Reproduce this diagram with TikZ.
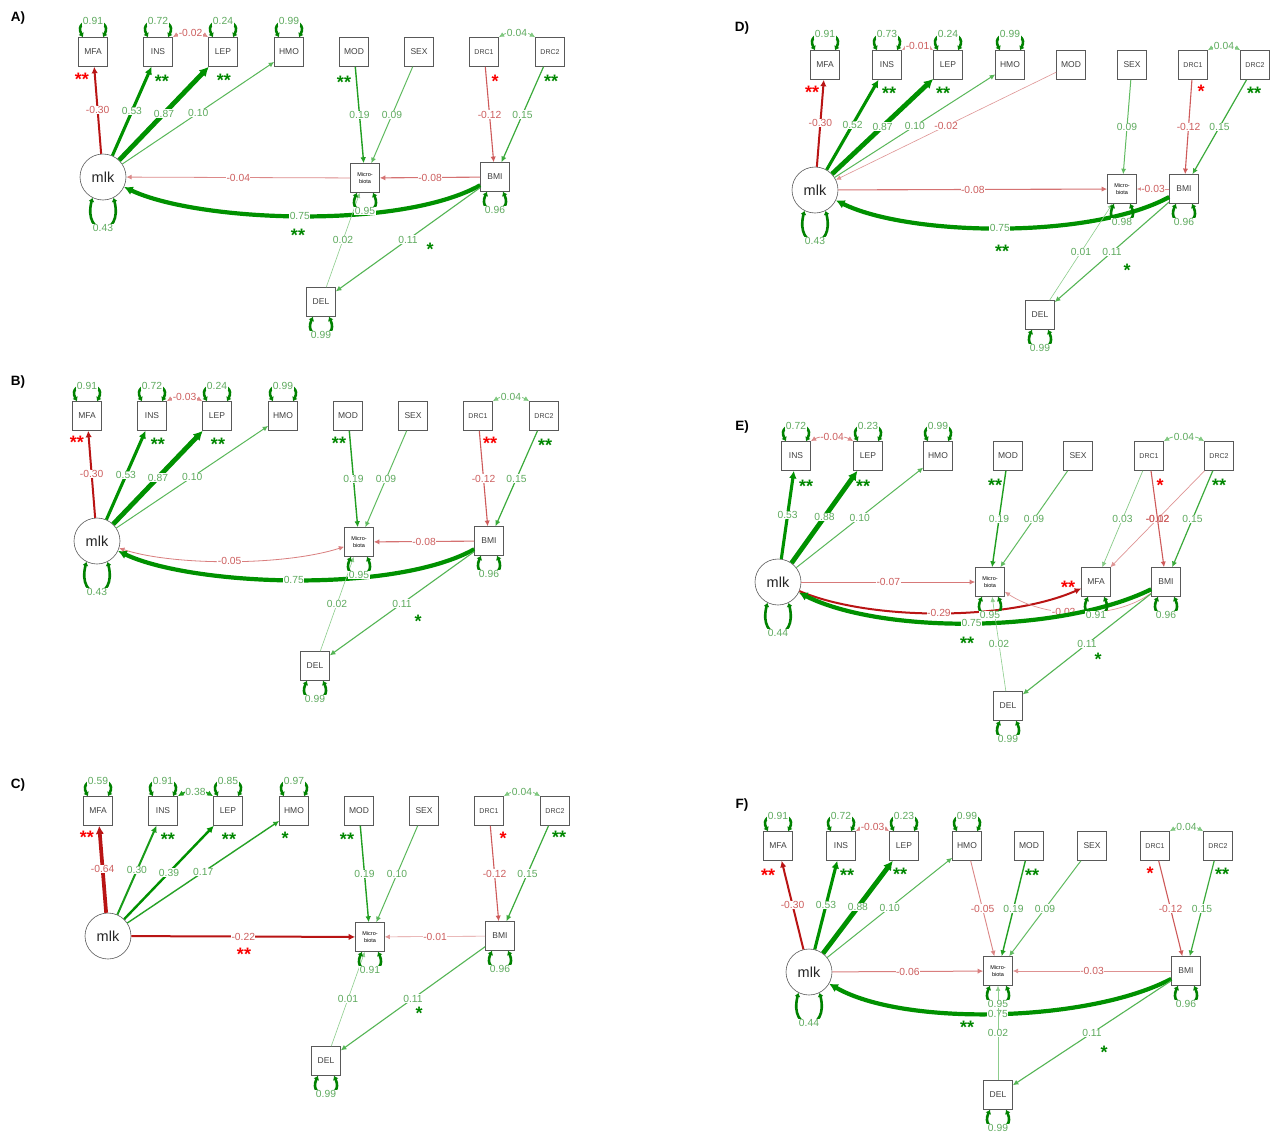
\documentclass[tikz,border=0pt]{standalone}
\usepackage{fontspec}
\setmainfont{Liberation Sans}
\usetikzlibrary{arrows.meta}
\definecolor{gE}{RGB}{0,145,0}
\definecolor{rE}{RGB}{185,20,20}
\definecolor{gL}{RGB}{95,170,95}
\definecolor{rL}{RGB}{205,95,95}
\definecolor{gS}{RGB}{0,135,0}
\definecolor{rS}{RGB}{250,0,0}
\tikzset{
 boxn/.style={draw=black!65, line width=0.6pt, minimum width=29pt, minimum height=29pt, inner sep=0pt, fill=white, font=\fontsize{8.5}{9}\selectfont, text=black!75},
 boxs/.style={boxn, font=\fontsize{7}{8}\selectfont},
 micn/.style={boxn, font=\fontsize{5.5}{6.2}\selectfont, align=center, text=black},
 latn/.style={circle, draw=black!65, line width=0.6pt, minimum size=46pt, inner sep=0pt, fill=white, font=\fontsize{14.5}{15}\selectfont, text=black!85},
 gedge/.style 2 args={draw=gE!#2, line width=#1pt, -{Latex[length=4.5pt 1,width=4pt 1.2]}},
 redge/.style 2 args={draw=rE!#2, line width=#1pt, -{Latex[length=4.5pt 1,width=4pt 1.2]}},
 gcov/.style 2 args={draw=gE!#2, line width=#1pt, {Latex[length=4.5pt 1,width=4pt 1.2]}-{Latex[length=4.5pt 1,width=4pt 1.2]}},
 rcov/.style 2 args={draw=rE!#2, line width=#1pt, {Latex[length=4.5pt 1,width=4pt 1.2]}-{Latex[length=4.5pt 1,width=4pt 1.2]}},
 glab/.style={fill=white, inner sep=0.5pt, text=gL, font=\fontsize{10.3}{11}\selectfont},
 rlab/.style={glab, text=rL},
 gstar/.style={text=gS, font=\bfseries\fontsize{18}{18}\selectfont, inner sep=0pt, anchor=base, yshift=-10pt},
 rstar/.style={gstar, text=rS},
 resloop/.style={draw=gE!90!black, line width=2.6pt, {Latex[length=4pt,width=6pt]}-{Latex[length=4pt,width=6pt]}},
 plab/.style={font=\bfseries\fontsize{13.5}{14}\selectfont},
}
\newcommand\rtop[2]{\draw[resloop] ([xshift=-10pt]#1.north) .. controls +(-11,-21) and +(11,-21) .. ([xshift=10pt]#1.north) node[midway,glab]{#2};}
\newcommand\rbot[2]{\draw[resloop] ([xshift=-8pt]#1.south) .. controls +(-11,24) and +(11,24) .. ([xshift=8pt]#1.south) node[midway,glab]{#2};}
\newcommand\rcir[2]{\draw[resloop] (#1.-117) .. controls +(-10,40) and +(10,40) .. (#1.-63) node[midway,glab]{#2};}
\newcommand\abcnodes{%
\node[boxn] (mfa) at (93,52) {MFA};
\node[boxn] (ins) at (158,52) {INS};
\node[boxn] (lep) at (223,52) {LEP};
\node[boxn] (hmo) at (289,52) {HMO};
\node[boxn] (mod) at (354,52) {MOD};
\node[boxn] (sex) at (419,52) {SEX};
\node[boxs] (drc1) at (484,52) {DRC1};
\node[boxs] (drc2) at (550,52) {DRC2};
\node[latn] (mlk) at (103,177) {mlk};
\node[micn] (mic) at (365,178) {Micro-\\biota};
\node[boxn] (bmi) at (495,177) {BMI};
\node[boxn] (del) at (321,302) {DEL};}
\begin{document}
\begin{tikzpicture}[x=1pt,y=-1pt]
\useasboundingbox (0,0) rectangle (1274,1135);
\fill[white] (0,0) rectangle (1274,1135);
% ---------------- Panel A
\begin{scope}[name prefix=a-]
\node[plab] (lab) at (18,18) {A)};
\abcnodes
\draw[redge={2}{100}] (mlk) -- (mfa) node[midway,rlab]{-0.30};
\draw[gedge={3.1}{100}] (mlk) -- (ins) node[midway,glab]{0.53};
\draw[gedge={4.8}{100}] (mlk) -- (lep) node[midway,glab]{0.87};
\draw[gedge={1}{65}] (mlk) -- (hmo) node[midway,glab]{0.10};
\draw[rcov={0.8}{50}] (ins.north east) .. controls +(10,-6) and +(-10,-6) .. (lep.north west) node[midway,rlab]{-0.02};
\draw[gedge={1.4}{87}] (mod) -- (mic) node[midway,glab]{0.19};
\draw[gedge={1}{62}] (sex) -- (mic) node[midway,glab]{0.09};
\draw[redge={1.1}{70}] (drc1) -- (bmi) node[midway,rlab]{-0.12};
\draw[gedge={1.2}{77}] (drc2) -- (bmi) node[midway,glab]{0.15};
\draw[gcov={0.8}{50}] (drc1.north east) .. controls +(10,-6) and +(-10,-6) .. (drc2.north west) node[midway,glab]{0.04};
\draw[redge={0.8}{50}] (mic) -- (mlk) node[midway,rlab]{-0.04};
\draw[redge={1.1}{60}] (bmi) -- (mic) node[midway,rlab]{-0.08};
\draw[gedge={4.2}{100}] (bmi) .. controls (400,230) and (198,222) .. (mlk) node[midway,glab]{0.75};
\draw[gedge={0.6}{45}] (del) -- (mic) node[midway,glab]{0.02};
\draw[gedge={1.1}{67}] (bmi) -- (del) node[midway,glab]{0.11};
\rtop{mfa}{0.91}\rtop{ins}{0.72}\rtop{lep}{0.24}\rtop{hmo}{0.99}
\rcir{mlk}{0.43}\rbot{mic}{0.95}\rbot{bmi}{0.96}\rbot{del}{0.99}
\node[rstar] (s1) at (82,75) {**};
\node[gstar] (s2) at (162,77) {**};
\node[gstar] (s3) at (224,76) {**};
\node[gstar] (s4) at (344,78) {**};
\node[rstar] (s5) at (495,77) {*};
\node[gstar] (s6) at (551,77) {**};
\node[gstar] (s7) at (298,231) {**};
\node[gstar] (s8) at (430,245) {*};
\end{scope}
% ---------------- Panel B
\begin{scope}[name prefix=b-, shift={(-6,364)}]
\node[plab] (lab) at (24,18) {B)};
\abcnodes
\draw[redge={2}{100}] (mlk) -- (mfa) node[midway,rlab]{-0.30};
\draw[gedge={3.1}{100}] (mlk) -- (ins) node[midway,glab]{0.53};
\draw[gedge={4.8}{100}] (mlk) -- (lep) node[midway,glab]{0.87};
\draw[gedge={1}{65}] (mlk) -- (hmo) node[midway,glab]{0.10};
\draw[rcov={0.8}{50}] (ins.north east) .. controls +(10,-6) and +(-10,-6) .. (lep.north west) node[midway,rlab]{-0.03};
\draw[gedge={1.4}{87}] (mod) -- (mic) node[midway,glab]{0.19};
\draw[gedge={1}{62}] (sex) -- (mic) node[midway,glab]{0.09};
\draw[redge={1.1}{70}] (drc1) -- (bmi) node[midway,rlab]{-0.12};
\draw[gedge={1.2}{77}] (drc2) -- (bmi) node[midway,glab]{0.15};
\draw[gcov={0.8}{50}] (drc1.north east) .. controls +(10,-6) and +(-10,-6) .. (drc2.north west) node[midway,glab]{0.04};
\draw[rcov={0.8}{55}] (mlk) .. controls (180,202) and (290,202) .. (mic) node[midway,rlab]{-0.05};
\draw[redge={1.1}{60}] (bmi) -- (mic) node[midway,rlab]{-0.08};
\draw[gedge={4.2}{100}] (bmi) .. controls (400,230) and (198,222) .. (mlk) node[midway,glab]{0.75};
\draw[gedge={0.6}{45}] (del) -- (mic) node[midway,glab]{0.02};
\draw[gedge={1.1}{67}] (bmi) -- (del) node[midway,glab]{0.11};
\rtop{mfa}{0.91}\rtop{ins}{0.72}\rtop{lep}{0.24}\rtop{hmo}{0.99}
\rcir{mlk}{0.43}\rbot{mic}{0.95}\rbot{bmi}{0.96}\rbot{del}{0.99}
\node[rstar] (s1) at (83,74) {**};
\node[gstar] (s2) at (164,76) {**};
\node[gstar] (s3) at (224,76) {**};
\node[gstar] (s4) at (345,75) {**};
\node[rstar] (s5) at (496,75) {**};
\node[gstar] (s6) at (551,77) {**};
\node[gstar] (s8) at (424,253) {*};
\end{scope}
% ---------------- Panel C
\begin{scope}[name prefix=c-, shift={(5,759)}]
\node[plab] (lab) at (13,26) {C)};
\abcnodes
\draw[redge={3.7}{100}] (mlk) -- (mfa) node[midway,rlab]{-0.64};
\draw[gedge={2}{90}] (mlk) -- (ins) node[midway,glab]{0.30};
\draw[gedge={2.4}{100}] (mlk) -- (lep) node[midway,glab]{0.39};
\draw[gedge={1.4}{85}] (mlk) -- (hmo) node[midway,glab]{0.17};
\draw[gcov={1.5}{90}] (ins.north east) .. controls +(10,-6) and +(-10,-6) .. (lep.north west) node[midway,glab]{0.38};
\draw[gedge={1.4}{87}] (mod) -- (mic) node[midway,glab]{0.19};
\draw[gedge={1}{65}] (sex) -- (mic) node[midway,glab]{0.10};
\draw[redge={1.1}{70}] (drc1) -- (bmi) node[midway,rlab]{-0.12};
\draw[gedge={1.2}{77}] (drc2) -- (bmi) node[midway,glab]{0.15};
\draw[gcov={0.8}{50}] (drc1.north east) .. controls +(10,-6) and +(-10,-6) .. (drc2.north west) node[midway,glab]{0.04};
\draw[redge={2}{100}] (mlk) -- (mic) node[midway,rlab]{-0.22};
\draw[redge={0.6}{45}] (bmi) -- (mic) node[midway,rlab]{-0.01};
\draw[gedge={0.6}{45}] (del) -- (mic) node[midway,glab]{0.01};
\draw[gedge={1.1}{67}] (bmi) -- (del) node[midway,glab]{0.11};
\rtop{mfa}{0.59}\rtop{ins}{0.91}\rtop{lep}{0.85}\rtop{hmo}{0.97}
\rbot{mic}{0.91}\rbot{bmi}{0.96}\rbot{del}{0.99}
\node[rstar] (s1) at (82,74) {**};
\node[gstar] (s2) at (163,76) {**};
\node[gstar] (s3) at (224,76) {**};
\node[gstar] (s9) at (280,75) {*};
\node[gstar] (s4) at (342,76) {**};
\node[rstar] (s5) at (498,75) {*};
\node[gstar] (s6) at (554,74) {**};
\node[rstar] (s7) at (239,191) {**};
\node[gstar] (s8) at (414,250) {*};
\end{scope}
% ---------------- Panel D
\begin{scope}[name prefix=d-]
\node[plab] (lab) at (742,28) {D)};
\node[boxn] (mfa) at (825,65) {MFA};
\node[boxn] (ins) at (887,65) {INS};
\node[boxn] (lep) at (948,65) {LEP};
\node[boxn] (hmo) at (1010,65) {HMO};
\node[boxn] (mod) at (1071,65) {MOD};
\node[boxn] (sex) at (1132,65) {SEX};
\node[boxs] (drc1) at (1193,65) {DRC1};
\node[boxs] (drc2) at (1255,65) {DRC2};
\node[latn] (mlk) at (815,190) {mlk};
\node[micn] (mic) at (1122,189) {Micro-\\biota};
\node[boxn] (bmi) at (1184,189) {BMI};
\node[boxn] (del) at (1040,315) {DEL};
\draw[redge={2}{100}] (mlk) -- (mfa) node[midway,rlab]{-0.30};
\draw[gedge={3.1}{100}] (mlk) -- (ins) node[midway,glab]{0.52};
\draw[gedge={4.8}{100}] (mlk) -- (lep) node[midway,glab]{0.87};
\draw[gedge={1}{65}] (mlk) -- (hmo) node[midway,glab]{0.10};
\draw[redge={0.6}{45}] (mod) -- (mlk) node[midway,rlab]{-0.02};
\draw[rcov={0.8}{45}] (ins.north east) .. controls +(10,-6) and +(-10,-6) .. (lep.north west) node[midway,rlab]{-0.01};
\draw[redge={1.1}{60}] (mlk) -- (mic) node[midway,rlab]{-0.08};
\draw[gedge={1}{62}] (sex) -- (mic) node[midway,glab]{0.09};
\draw[redge={1.1}{70}] (drc1) -- (bmi) node[midway,rlab]{-0.12};
\draw[gedge={1.2}{77}] (drc2) -- (bmi) node[midway,glab]{0.15};
\draw[gcov={0.8}{50}] (drc1.north east) .. controls +(10,-6) and +(-10,-6) .. (drc2.north west) node[midway,glab]{0.04};
\draw[redge={0.8}{47}] (bmi) -- (mic) node[midway,rlab]{-0.03};
\draw[gedge={4.2}{100}] (bmi) .. controls (1090,240) and (908,236) .. (mlk) node[midway,glab]{0.75};
\draw[gedge={0.6}{45}] (del) -- (mic) node[midway,glab]{0.01};
\draw[gedge={1.1}{67}] (bmi) -- (del) node[midway,glab]{0.11};
\rtop{mfa}{0.91}\rtop{ins}{0.73}\rtop{lep}{0.24}\rtop{hmo}{0.99}
\rcir{mlk}{0.43}\rbot{mic}{0.98}\rbot{bmi}{0.96}\rbot{del}{0.99}
\node[rstar] (s1) at (812,88) {**};
\node[gstar] (s2) at (889,89) {**};
\node[gstar] (s3) at (943,89) {**};
\node[rstar] (s5) at (1201,87) {*};
\node[gstar] (s6) at (1254,89) {**};
\node[gstar] (s7) at (1002,247) {**};
\node[gstar] (s8) at (1127,266) {*};
\end{scope}
% ---------------- Panel E
\begin{scope}[name prefix=e-]
\node[plab] (lab) at (742,427) {E)};
\node[boxn] (ins) at (796,456) {INS};
\node[boxn] (lep) at (868,456) {LEP};
\node[boxn] (hmo) at (938,456) {HMO};
\node[boxn] (mod) at (1008,456) {MOD};
\node[boxn] (sex) at (1078,456) {SEX};
\node[boxs] (drc1) at (1149,456) {DRC1};
\node[boxs] (drc2) at (1219,456) {DRC2};
\node[latn] (mlk) at (778,582) {mlk};
\node[micn] (mic) at (990,582) {Micro-\\biota};
\node[boxn] (mfa) at (1096,582) {MFA};
\node[boxn] (bmi) at (1166,582) {BMI};
\node[boxn] (del) at (1008,706) {DEL};
\draw[gedge={3.1}{100}] (mlk) -- (ins) node[midway,glab]{0.53};
\draw[gedge={4.8}{100}] (mlk) -- (lep) node[midway,glab]{0.88};
\draw[gedge={1}{65}] (mlk) -- (hmo) node[midway,glab]{0.10};
\draw[rcov={0.8}{50}] (ins.north east) .. controls +(10,-6) and +(-10,-6) .. (lep.north west) node[midway,rlab]{-0.04};
\draw[gedge={1.4}{87}] (mod) -- (mic) node[midway,glab]{0.19};
\draw[gedge={1}{62}] (sex) -- (mic) node[midway,glab]{0.09};
\draw[gedge={0.7}{47}] (drc1) -- (mfa) node[midway,glab]{0.03};
\draw[redge={0.7}{45}] (drc2) -- (mfa) node[midway,rlab]{-0.02};
\draw[redge={1.1}{70}] (drc1) -- (bmi) node[midway,rlab,fill=none]{-0.12};
\draw[gedge={1.2}{77}] (drc2) -- (bmi) node[midway,glab]{0.15};
\draw[gcov={0.8}{50}] (drc1.north east) .. controls +(10,-6) and +(-10,-6) .. (drc2.north west) node[midway,glab]{0.04};
\draw[redge={1}{57}] (mlk) -- (mic) node[midway,rlab]{-0.07};
\draw[redge={2}{100}] (mlk) .. controls (870,621) and (1007,621) .. (mfa) node[midway,rlab]{-0.29};
\draw[redge={0.7}{45}] (bmi) .. controls (1115,620) and (1046,619) .. (mic) node[pos=0.6,rlab]{-0.02};
\draw[gedge={4.2}{100}] (bmi) .. controls (1060,634) and (881,634) .. (mlk) node[midway,glab]{0.75};
\draw[gedge={0.6}{45}] (del) -- (mic) node[midway,glab]{0.02};
\draw[gedge={1.1}{67}] (bmi) -- (del) node[midway,glab]{0.11};
\rtop{ins}{0.72}\rtop{lep}{0.23}\rtop{hmo}{0.99}
\rcir{mlk}{0.44}\rbot{mic}{0.95}\rbot{mfa}{0.91}\rbot{bmi}{0.96}\rbot{del}{0.99}
\node[gstar] (s2) at (806,482) {**};
\node[gstar] (s3) at (863,482) {**};
\node[gstar] (s4) at (995,481) {**};
\node[rstar] (s5) at (1160,481) {*};
\node[gstar] (s6) at (1219,481) {**};
\node[rstar] (s1) at (1068,583) {**};
\node[gstar] (s7) at (967,639) {**};
\node[gstar] (s8) at (1098,655) {*};
\end{scope}
% ---------------- Panel F
\begin{scope}[name prefix=f-]
\node[plab] (lab) at (742,805) {F)};
\node[boxn] (mfa) at (778,846) {MFA};
\node[boxn] (ins) at (841,846) {INS};
\node[boxn] (lep) at (904,846) {LEP};
\node[boxn] (hmo) at (967,846) {HMO};
\node[boxn] (mod) at (1029,846) {MOD};
\node[boxn] (sex) at (1092,846) {SEX};
\node[boxs] (drc1) at (1155,846) {DRC1};
\node[boxs] (drc2) at (1218,846) {DRC2};
\node[latn] (mlk) at (809,972) {mlk};
\node[micn] (mic) at (998,971) {Micro-\\biota};
\node[boxn] (bmi) at (1186,971) {BMI};
\node[boxn] (del) at (998,1095) {DEL};
\draw[redge={2}{100}] (mlk) -- (mfa) node[midway,rlab]{-0.30};
\draw[gedge={3.1}{100}] (mlk) -- (ins) node[midway,glab]{0.53};
\draw[gedge={4.8}{100}] (mlk) -- (lep) node[midway,glab]{0.88};
\draw[gedge={1}{65}] (mlk) -- (hmo) node[midway,glab]{0.10};
\draw[rcov={0.8}{50}] (ins.north east) .. controls +(10,-6) and +(-10,-6) .. (lep.north west) node[midway,rlab]{-0.03};
\draw[redge={0.9}{52}] (hmo) -- (mic) node[midway,rlab]{-0.05};
\draw[gedge={1.4}{87}] (mod) -- (mic) node[midway,glab]{0.19};
\draw[gedge={1}{62}] (sex) -- (mic) node[midway,glab]{0.09};
\draw[redge={1.1}{70}] (drc1) -- (bmi) node[midway,rlab]{-0.12};
\draw[gedge={1.2}{77}] (drc2) -- (bmi) node[midway,glab]{0.15};
\draw[gcov={0.8}{50}] (drc1.north east) .. controls +(10,-6) and +(-10,-6) .. (drc2.north west) node[midway,glab]{0.04};
\draw[redge={1}{55}] (mlk) -- (mic) node[midway,rlab]{-0.06};
\draw[redge={0.8}{47}] (bmi) -- (mic) node[midway,rlab]{-0.03};
\draw[gedge={4.2}{100}] (bmi) .. controls (1090,1022) and (904,1027) .. (mlk) node[midway,glab]{0.75};
\draw[gedge={0.6}{45}] (del) -- (mic) node[midway,glab]{0.02};
\draw[gedge={1.1}{67}] (bmi) -- (del) node[midway,glab]{0.11};
\rtop{mfa}{0.91}\rtop{ins}{0.72}\rtop{lep}{0.23}\rtop{hmo}{0.99}
\rcir{mlk}{0.44}\rbot{mic}{0.95}\rbot{bmi}{0.96}\rbot{del}{0.99}
\node[rstar] (s1) at (768,871) {**};
\node[gstar] (s2) at (847,871) {**};
\node[gstar] (s3) at (900,870) {**};
\node[gstar] (s4) at (1032,871) {**};
\node[rstar] (s5) at (1150,869) {*};
\node[gstar] (s6) at (1222,870) {**};
\node[gstar] (s7) at (967,1023) {**};
\node[gstar] (s8) at (1104,1048) {*};
\end{scope}
\end{tikzpicture}
\end{document}
